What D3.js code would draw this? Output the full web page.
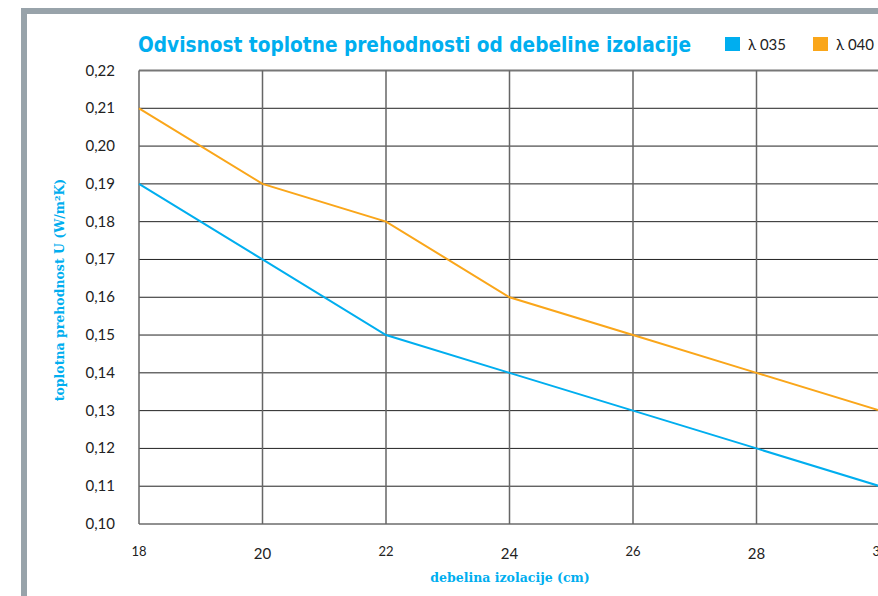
<!DOCTYPE html>
<html>
<head>
<meta charset="utf-8">
<script src="https://cdn.jsdelivr.net/npm/d3@7"></script>
<style>
body { margin: 0; background: #fff; }
svg { display: block; }
</style>
</head>
<body>
<svg id="chart" width="878" height="596"></svg>
<script>
// data
var thickness = [18, 20, 22, 24, 26, 28, 30];
var u035 = [0.19, 0.17, 0.15, 0.14, 0.13, 0.12, 0.11];
var u040 = [0.21, 0.19, 0.18, 0.16, 0.15, 0.14, 0.13];
var yTicks = [0.10, 0.11, 0.12, 0.13, 0.14, 0.15, 0.16, 0.17, 0.18, 0.19, 0.20, 0.21, 0.22];
var seriesNames = ['λ 035', 'λ 040'];

var blue = '#00aeef';
var orange = '#faa61a';
var font = 'Lato, "Open Sans", sans-serif';

var svg = d3.select('#chart');

// gray frame (top + left)
svg.append('path')
  .attr('d', 'M24,600 L24,11 L880,11')
  .attr('fill', 'none')
  .attr('stroke', '#98a3aa')
  .attr('stroke-width', 6);

var x = d3.scaleLinear().domain([18, 30]).range([139, 880]);
var y = d3.scaleLinear().domain([0.10, 0.22]).range([524, 70.5]);

// horizontal grid
svg.append('g').selectAll('line')
  .data(yTicks)
  .enter().append('line')
  .attr('x1', x(18)).attr('x2', x(30))
  .attr('y1', function(d) { return y(d); })
  .attr('y2', function(d) { return y(d); })
  .attr('stroke', function(d, i) { return i == yTicks.length - 1 ? '#777' : '#222'; })
  .attr('stroke-width', function(d, i) { return i == yTicks.length - 1 ? 2 : 1; });

// vertical grid
svg.append('g').selectAll('line')
  .data(thickness)
  .enter().append('line')
  .attr('x1', function(d) { return x(d); })
  .attr('x2', function(d) { return x(d); })
  .attr('y1', y(0.22)).attr('y2', y(0.10))
  .attr('stroke', function(d, i) { return i == thickness.length - 1 ? '#e4e4e4' : '#666'; })
  .attr('stroke-width', 1.5);

// y tick labels
svg.append('g').selectAll('text')
  .data(yTicks)
  .enter().append('text')
  .attr('x', 115)
  .attr('y', function(d) { return y(d) + 5; })
  .attr('text-anchor', 'end')
  .attr('font-family', font)
  .attr('font-size', 15)
  .attr('fill', '#222')
  .text(function(d) { return d3.format('.2f')(d).replace('.', ','); });

// x tick labels (alternating sizes as in the original)
svg.append('g').selectAll('text')
  .data(thickness)
  .enter().append('text')
  .attr('x', function(d) { return x(d); })
  .attr('y', function(d, i) { return i % 2 == 0 ? 556 : 559; })
  .attr('text-anchor', 'middle')
  .attr('font-family', font)
  .attr('font-size', function(d, i) { return i % 2 == 0 ? 13 : 15; })
  .attr('fill', '#222')
  .text(function(d) { return d; });

// lines
var line = d3.line()
  .x(function(d, i) { return x(thickness[i]); })
  .y(function(d) { return y(d); });

svg.append('path')
  .datum(u040)
  .attr('d', line)
  .attr('fill', 'none')
  .attr('stroke', orange)
  .attr('stroke-width', 2);

svg.append('path')
  .datum(u035)
  .attr('d', line)
  .attr('fill', 'none')
  .attr('stroke', blue)
  .attr('stroke-width', 2);

// title
svg.append('text')
  .attr('x', 138)
  .attr('y', 52)
  .attr('font-family', '"Liberation Sans Narrow", "DejaVu Sans Condensed", sans-serif')
  .attr('font-weight', 'bold')
  .attr('font-size', 22)
  .attr('fill', blue)
  .attr('textLength', 553)
  .attr('lengthAdjust', 'spacingAndGlyphs')
  .text('Odvisnost toplotne prehodnosti od debeline izolacije');

// legend
var legX = [725, 813];
var legColors = [blue, orange];
var leg = svg.append('g').selectAll('g')
  .data(seriesNames)
  .enter().append('g')
  .attr('transform', function(d, i) { return 'translate(' + legX[i] + ',37)'; });
leg.append('rect')
  .attr('width', 15).attr('height', 14)
  .attr('fill', function(d, i) { return legColors[i]; });
leg.append('text')
  .attr('x', 23).attr('y', 13)
  .attr('font-family', font)
  .attr('font-size', 15)
  .attr('fill', '#222')
  .text(function(d) { return d; });

// axis titles
svg.append('text')
  .attr('transform', 'translate(64,290) rotate(-90)')
  .attr('text-anchor', 'middle')
  .attr('font-family', '"DejaVu Serif", serif')
  .attr('font-weight', 'bold')
  .attr('font-size', 12.5)
  .attr('fill', blue)
  .text('toplotna prehodnost U (W/m²K)');

svg.append('text')
  .attr('x', 510)
  .attr('y', 582)
  .attr('text-anchor', 'middle')
  .attr('font-family', '"DejaVu Serif", serif')
  .attr('font-weight', 'bold')
  .attr('font-size', 12.5)
  .attr('fill', blue)
  .text('debelina izolacije (cm)');
</script>
</body>
</html>
